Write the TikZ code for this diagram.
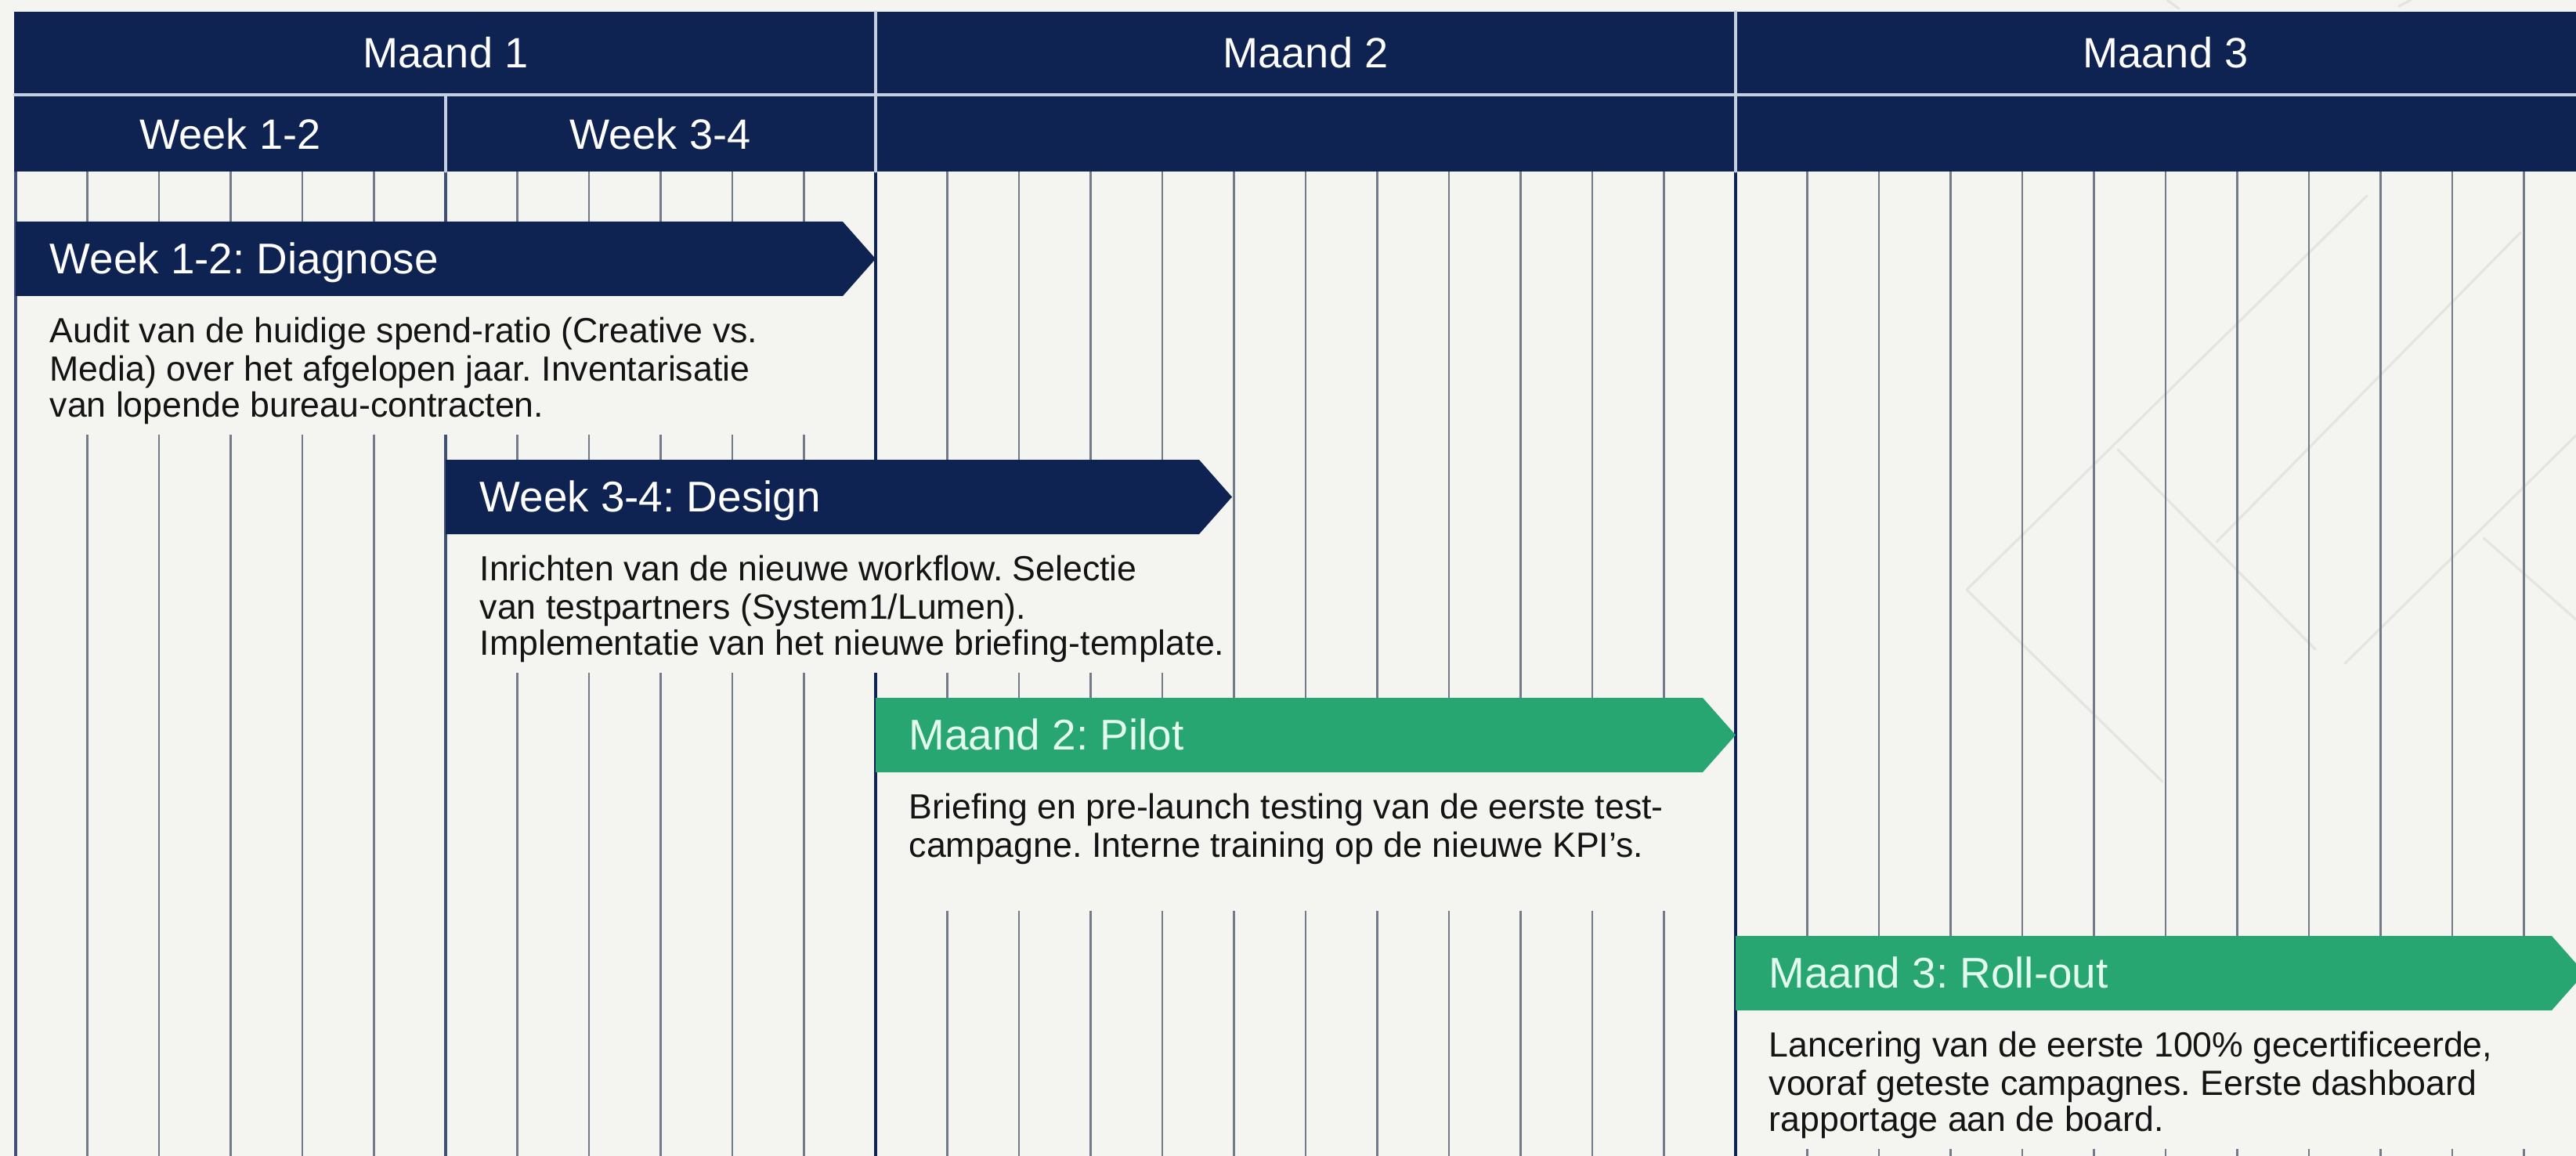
\documentclass[tikz,border=0pt]{standalone}
\usepackage{fontspec}
\setmainfont{Liberation Sans}
\frenchspacing
\definecolor{navy}{HTML}{0F2352}
\definecolor{groen}{HTML}{27A672}
\definecolor{munt}{HTML}{E2FBEE}
\definecolor{papier}{HTML}{F4F4F1}
\definecolor{lijn}{HTML}{737A8A}
\definecolor{kopstreep}{HTML}{C5CFE4}
\definecolor{schaduw}{HTML}{E4E4E1}
\begin{document}
\begin{tikzpicture}[x=0.01cm,y=-0.01cm, line join=round, line cap=round,
	kop/.style={text=white,font=\fontsize{15.4}{18}\selectfont},
	titel/.style={anchor=base west,inner sep=0pt,font=\fontsize{15.6}{18}\selectfont},
	uitleg/.style={anchor=north west,inner sep=0pt,align=left,text=black!92,font=\fontsize{12.7}{13.1}\selectfont},
	fijn/.style={draw=lijn,line width=0.7pt},
	grof/.style={draw=navy,line width=0.9pt}]
	%%Nhập thông số lưới
	\def \xo{20}
	\def \kol{91.5}
	\def \ykop{15}
	\def \ysep{121}
	\def \yrast{219}
	\def \ymax{1476}
	%%Nền
	\fill[papier] (0,0) rectangle (3289,\ymax);
	\useasboundingbox (0,0) rectangle (3289,\ymax);
	\draw[schaduw,line width=0.9pt] (2511,753)--(3022,250) (2511,753)--(2761,998)
	(2704,574)--(2956,829) (2830,692)--(3218,297) (2994,847)--(3289,556)
	(3171,687)--(3289,791) (2767,0)--(2782,11) (3078,0)--(3063,8);
	%%Lưới
	\foreach \k in {1,...,36}
		\draw[fijn] ({\xo+\k*\kol},\yrast)--({\xo+\k*\kol},\ymax);
	\foreach \k in {0,6}
		\draw[grof,draw=navy!80] ({\xo+\k*\kol},\yrast)--({\xo+\k*\kol},\ymax);
	\foreach \k in {12,24}
		\draw[grof,line width=1pt] ({\xo+\k*\kol},\yrast)--({\xo+\k*\kol},\ymax);
	%%Tiêu đề
	\fill[navy] (18,\ykop) rectangle (3300,\yrast);
	\draw[kopstreep,line width=0.9pt] (18,\ysep)--(3300,\ysep)
	(1118,\ykop)--(1118,\yrast) (2216,\ykop)--(2216,\yrast) (569,\ysep)--(569,\yrast);
	\node[kop] (m1) at (569,67) {Maand 1};
	\node[kop] (m2) at (1667,67) {Maand 2};
	\node[kop] (m3) at (2765,67) {Maand 3};
	\node[kop] (w1) at (294,171) {Week 1-2};
	\node[kop] (w2) at (843,171) {Week 3-4};
	%%Fase 1
	\fill[papier] (22,283) rectangle (1116,555);
	\fill[navy] (20,283)--(1076,283)--(1118,330.5)--(1076,378)--(20,378)--cycle;
	\node[titel,text=white] (t1) at (63,349.5) {Week 1-2: Diagnose};
	\node[uitleg] (u1) at (63,404) {\strut Audit van de huidige spend-ratio (Creative vs.\\
		Media) over het afgelopen jaar. Inventarisatie\\
		van lopende bureau-contracten.};
	%%Fase 2
	\fill[papier] (571,587) rectangle (1571,859);
	\fill[navy] (569,587)--(1531,587)--(1573,634.5)--(1531,682)--(569,682)--cycle;
	\node[titel,text=white] (t2) at (612,653.5) {Week 3-4: Design};
	\node[uitleg] (u2) at (612,708) {\strut Inrichten van de nieuwe workflow. Selectie\\
		van testpartners (System1/Lumen).\\
		Implementatie van het nieuwe briefing-template.};
	%%Fase 3
	\fill[papier] (1120,891) rectangle (2214,1163);
	\fill[groen] (1118,891)--(2174,891)--(2216,938.5)--(2174,986)--(1118,986)--cycle;
	\node[titel,text=munt] (t3) at (1160,957.5) {Maand 2: Pilot};
	\node[uitleg] (u3) at (1160,1012) {\strut Briefing en pre-launch testing van de eerste test-\\
		campagne. Interne training op de nieuwe KPI’s.};
	%%Fase 4
	\fill[papier] (2218,1195) rectangle (3298,1467);
	\fill[groen] (2216,1195)--(3258,1195)--(3300,1242.5)--(3258,1290)--(2216,1290)--cycle;
	\node[titel,text=munt] (t4) at (2258,1261.5) {Maand 3: Roll-out};
	\node[uitleg] (u4) at (2258,1316) {\strut Lancering van de eerste 100\% gecertificeerde,\\
		vooraf geteste campagnes. Eerste dashboard\\
		rapportage aan de board.};
\end{tikzpicture}
\end{document}
